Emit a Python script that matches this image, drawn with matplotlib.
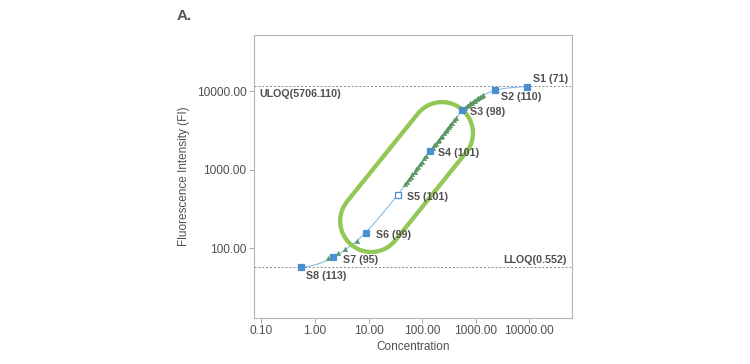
import numpy as np
import matplotlib
matplotlib.use('Agg')
from matplotlib import pyplot as plt, ticker as tk, transforms as mtr
from matplotlib.patches import Polygon

plt.rcParams['font.family'] = ['Liberation Sans', 'DejaVu Sans']

# standards: concentration, fluorescence intensity, labels
std_conc = [9040, 2260, 565, 141, 35, 8.8, 2.2, 0.552]
std_fi = [11350, 10200, 5690, 1742, 480, 158, 76.9, 57.3]
std_labels = ['S1 (71)', 'S2 (110)', 'S3 (98)', 'S4 (101)', 'S5 (101)',
              'S6 (99)', 'S7 (95)', 'S8 (113)']

# fitted curve
curve_conc = [0.552, 0.794, 1.0, 1.26, 1.58, 2.2, 2.82, 3.98, 5.97, 8.8, 12.6,
              17.8, 25.1, 35, 70.8, 141, 282, 565, 891, 1413, 2260, 3548, 5623, 9040]
curve_fi = [57.3, 59.6, 61.7, 64.9, 69.2, 76.9, 85.1, 100, 123, 158, 206.5,
            272, 361, 480, 912, 1742, 3177, 5690, 7413, 8954, 10200, 10840, 11170, 11350]

# samples (green triangles)
smp_conc = [1.73, 2.67, 3.6, 5.97,
            47.9, 52.5, 57.5, 61.7, 66.1, 72.4, 77.6, 85.1, 91.2, 100, 110, 120,
            158, 170, 182, 195, 209, 224, 240, 257, 275, 295, 316, 339, 363, 398, 437,
            603, 646, 692, 741, 794, 851, 912, 977, 1047, 1122, 1202, 1288, 1380]
smp_fi = [74.6, 87, 98, 125,
          650, 690, 770, 800, 875, 930, 1010, 1080, 1175, 1250, 1400, 1490,
          1900, 2060, 2150, 2320, 2420, 2600, 2720, 2930, 3060, 3300, 3440, 3700, 3880, 4250, 4540,
          5950, 6100, 6450, 6600, 6950, 7080, 7450, 7580, 7950, 8050, 8420, 8550, 8850]

uloq_fi, uloq_text = 11550, 'ULOQ(5706.110)'
lloq_fi, lloq_text = 57.6, 'LLOQ(0.552)'
xticks = [0.1, 1, 10, 100, 1000, 10000]
yticks = [100, 1000, 10000]

# highlight loop: centres of the two round ends (conc, FI)
loop_ends = [(235, 2920), (11.2, 223)]
loop_radius = 22.3  # points

txt = '#505050'
fig = plt.figure(figsize=(7.5, 3.64), dpi=100)
ax = fig.add_axes([0.3387, 0.1274, 0.4236, 0.7764])
ax.set_xscale('log')
ax.set_yscale('log')
ax.set_xlim(10 ** -1.138, 10 ** 4.794)
ax.set_ylim(10 ** 1.12, 10 ** 4.712)

ax.plot(curve_conc, curve_fi, color='#74b4e4', lw=0.7, zorder=2)
ax.plot(smp_conc, smp_fi, ls='none', marker='^', ms=3.2, color='#5f9a66',
        mec='#548f5a', mew=0.3, zorder=3)
face = ['#4a90d0'] * len(std_conc)
face[4] = 'white'
for c, f, fc in zip(std_conc, std_fi, face):
	ax.plot([c], [f], ls='none', marker='s', ms=4.0, mfc=fc, mec='#4a90d0',
	        mew=0.9, zorder=4)

offsets = [(4.3, 5.8), (4.3, -5.0), (5.8, -1.4), (5.8, -1.4), (6.5, -1.4),
           (7.2, -1.4), (7.2, -2.2), (3.6, -6.5)]
for c, f, lab, off in zip(std_conc, std_fi, std_labels, offsets):
	ax.annotate(lab, (c, f), xytext=off, textcoords='offset points', ha='left',
	            va='center', fontsize=7.7, fontweight='bold', color=txt, zorder=5)

for y in (uloq_fi, lloq_fi):
	ax.axhline(y, color='#8a8a8a', lw=0.7, ls=(0, (2, 2)), zorder=1)
ax.annotate(uloq_text, (0, uloq_fi), xycoords=('axes fraction', 'data'),
            xytext=(3.5, -5.5), textcoords='offset points', ha='left', va='center',
            fontsize=7.7, fontweight='bold', color=txt)
ax.annotate(lloq_text, (1, lloq_fi), xycoords=('axes fraction', 'data'),
            xytext=(-4, 5.2), textcoords='offset points', ha='right', va='center',
            fontsize=7.7, fontweight='bold', color=txt)

ax.xaxis.set_major_locator(tk.FixedLocator(xticks))
ax.yaxis.set_major_locator(tk.FixedLocator(yticks))
ax.xaxis.set_minor_locator(tk.NullLocator())
ax.yaxis.set_minor_locator(tk.NullLocator())
ax.xaxis.set_major_formatter(tk.FormatStrFormatter('%.2f'))
ax.yaxis.set_major_formatter(tk.FormatStrFormatter('%.2f'))
ax.tick_params(length=3.5, width=0.6, color='#9a9a9a', labelsize=8.6,
               labelcolor=txt, pad=2)
for s in ax.spines.values():
	s.set_color('#b5b5b5')
	s.set_linewidth(0.8)
ax.set_xlabel('Concentration', fontsize=8.5, color=txt, labelpad=3)
ax.set_ylabel('Fluorescence Intensity (FI)', fontsize=8.5, color=txt, labelpad=5)
fig.text(0.236, 0.955, 'A.', fontsize=11, fontweight='bold', color='#555555',
         va='center', ha='left')

# stadium-shaped highlight drawn in display space
p1, p2 = ax.transData.transform(loop_ends)
r = loop_radius * fig.dpi / 72
phi = np.arctan2(*(p2 - p1)[::-1])
a1 = np.linspace(phi + np.pi / 2, phi + 3 * np.pi / 2, 60)
a2 = np.linspace(phi - np.pi / 2, phi + np.pi / 2, 60)
pts = np.vstack([p1 + r * np.c_[np.cos(a1), np.sin(a1)],
                 p2 + r * np.c_[np.cos(a2), np.sin(a2)]])
ax.add_patch(Polygon(pts, closed=True, fill=False, ec='#92c856', lw=3.1,
                     transform=mtr.IdentityTransform(), zorder=3.5))

plt.savefig('out.png', dpi=100)
